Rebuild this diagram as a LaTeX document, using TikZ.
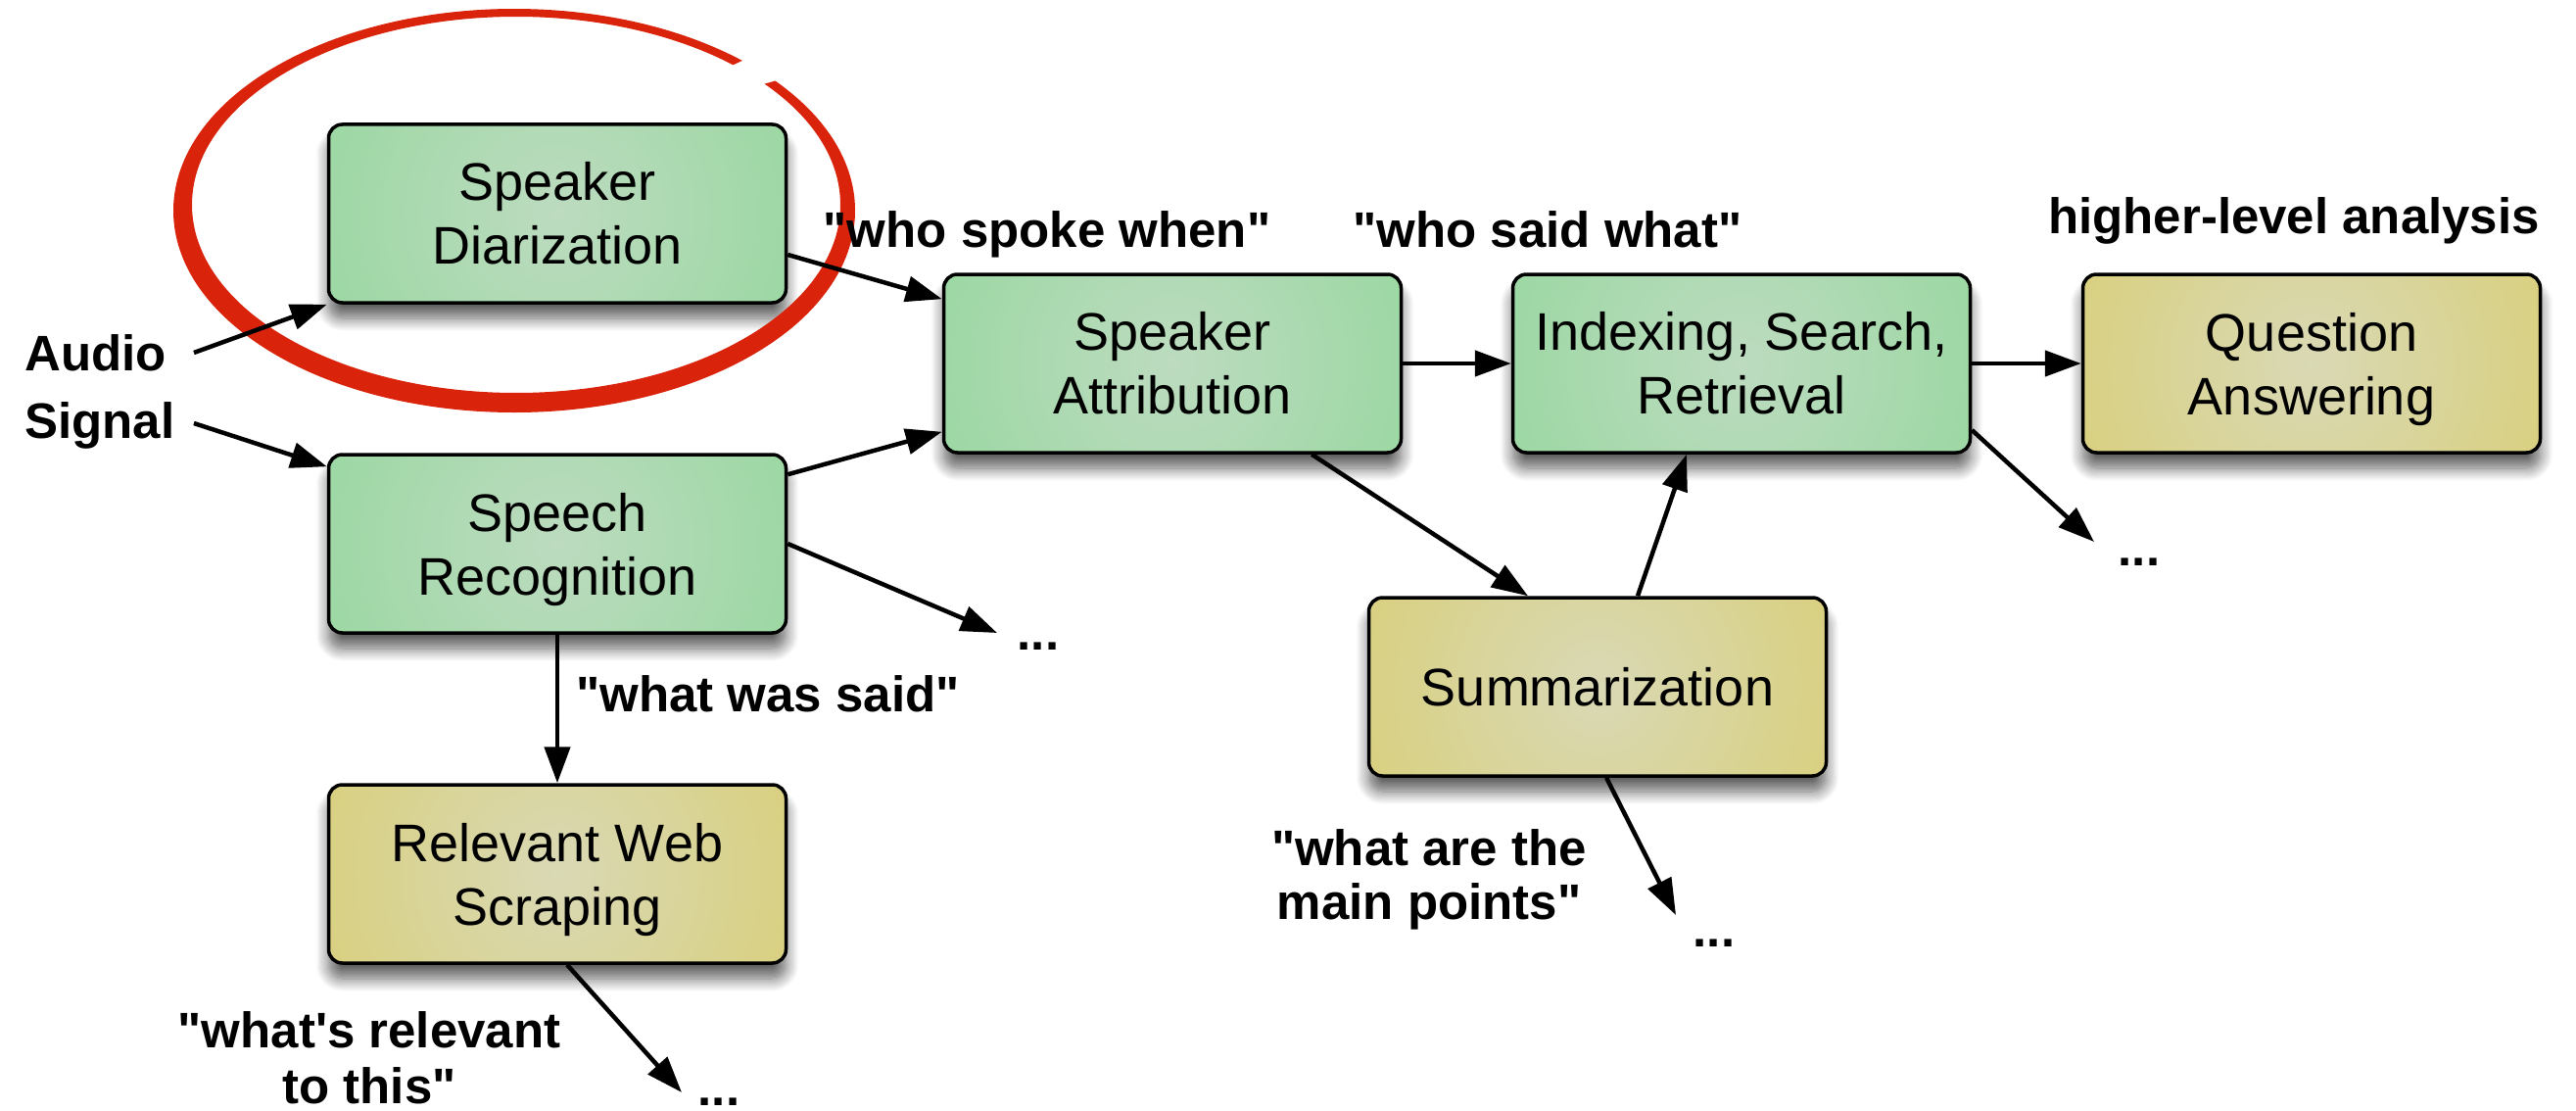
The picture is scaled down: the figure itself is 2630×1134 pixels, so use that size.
\documentclass[tikz,border=0pt]{standalone}
\usepackage{fontspec}
\setmainfont{Liberation Sans}
\usetikzlibrary{arrows.meta,shadows.blur,calc}
\pgfdeclareradialshading{greenglow}{\pgfpoint{0bp}{0bp}}{rgb(0bp)=(0.74,0.86,0.75); rgb(50bp)=(0.48,0.83,0.53); rgb(100bp)=(0.48,0.83,0.53)}
\pgfdeclareradialshading{yellowglow}{\pgfpoint{0bp}{0bp}}{rgb(0bp)=(0.85,0.85,0.71); rgb(50bp)=(0.85,0.78,0.29); rgb(100bp)=(0.85,0.78,0.29)}
\definecolor{ringred}{RGB}{217,35,11}
\newcommand{\dq}{\textquotedbl}
\begin{document}
\begin{tikzpicture}[x=1pt,y=-1pt,
  box/.style={draw=black, line width=3.5pt, rounded corners=14pt,
    minimum width=467pt, minimum height=182pt, inner sep=0pt, align=center,
    font=\fontsize{54}{65}\selectfont,
    blur shadow={shadow xshift=0pt, shadow yshift=-16pt, shadow blur radius=13pt, shadow opacity=62, shadow blur steps=12}},
  gbox/.style={box, fill={rgb,255:red,122;green,212;blue,135},
    path picture={\shade[shading=greenglow] (path picture bounding box.center) circle[radius=255pt];}},
  ybox/.style={box, fill={rgb,255:red,217;green,199;blue,74},
    path picture={\shade[shading=yellowglow] (path picture bounding box.center) circle[radius=255pt];}},
  arr/.style={-{Triangle[length=37pt,width=26pt]}, line width=4.5pt},
  lbl/.style={font=\bfseries\fontsize{51}{60}\selectfont, inner sep=0pt}
]
\useasboundingbox (0,0) rectangle (2630,1134);

% boxes
\node[gbox] (SD) at (569,218) {Speaker\\Diarization};
\node[gbox] (SR) at (569,555) {Speech\\\smash{Recognition}};
\node[ybox] (RWS) at (569,892) {Relevant Web\\\smash{Scraping}};
\node[gbox] (SA) at (1197,371) {Speaker\\Attribution};
\node[gbox] (IX) at (1778,371) {Indexing, Search,\\Retrieval};
\node[ybox] (QA) at (2360,371) {Question\\\smash{Answering}};
\node[ybox] (SU) at (1631,701) {Summarization};

% red ring (hand-drawn look: thicker at left and bottom, open at upper right)
\fill[ringred] (525,215) ++(-40:348 and 206)
  arc[start angle=-40, end angle=312, x radius=348, y radius=206]
  -- ($(527,209)+(312:331 and 192)$)
  arc[start angle=312, end angle=-40, x radius=331, y radius=192] -- cycle;

% labels
\node[lbl, anchor=west, align=left, font=\bfseries\fontsize{51}{69}\selectfont] (audio) at (25,400) {Audio\\Signal};
\node[lbl, anchor=base] (wsw) at (1069,252) {\dq who spoke when\dq};
\node[lbl, anchor=base] (wsa) at (1580,252) {\dq who said what\dq};
\node[lbl, anchor=base] (hla) at (2342,238) {higher-level analysis};
\node[lbl, anchor=base] (wws) at (784,726) {\dq what was said\dq};
\node[lbl, align=center, font=\bfseries\fontsize{51}{57}\selectfont] (wrt) at (377,1080) {\dq what\textquotesingle s relevant\\to this\dq};
\node[lbl, align=center, font=\bfseries\fontsize{51}{55}\selectfont] (wmp) at (1459,898) {\dq what are the\\main points\dq};

% dots
\node[lbl, anchor=base] (d1) at (1060,663) {...};
\node[lbl, anchor=base] (d2) at (734,1128) {...};
\node[lbl, anchor=base] (d3) at (1750,966) {...};
\node[lbl, anchor=base] (d4) at (2184,577) {...};

\coordinate (a1) at (198,360);
\coordinate (a2) at (198,432);
\coordinate (e1) at (1018,646);
\coordinate (e2) at (696,1115);
\coordinate (e3) at (1711,934);
\coordinate (e4) at (2138,553);

% connectors
\draw[arr] (a1) -- (SD.south west);
\draw[arr] (a2) -- ([yshift=-14pt]SR.north west);
\draw[arr] ([yshift=-42pt]SD.east) -- ([yshift=-27pt]SA.north west);
\draw[arr] ([yshift=-22pt]SR.north east) -- ([yshift=23pt]SA.south west);
\draw[arr] (SA.east) -- (IX.west);
\draw[arr] (IX.east) -- (QA.west);
\draw[arr] (SR.east) -- (e1);
\draw[arr] (SR.south) -- (RWS.north);
\draw[arr] ([xshift=10pt]RWS.south) -- (e2);
\draw[arr] ([xshift=-93pt]SA.south east) -- ([xshift=-71pt]SU.north);
\draw[arr] ([xshift=41pt]SU.north) -- ([xshift=-56pt]IX.south);
\draw[arr] ([xshift=9pt]SU.south) -- (e3);
\draw[arr] ([yshift=-68pt]IX.east) -- (e4);
\end{tikzpicture}
\end{document}
